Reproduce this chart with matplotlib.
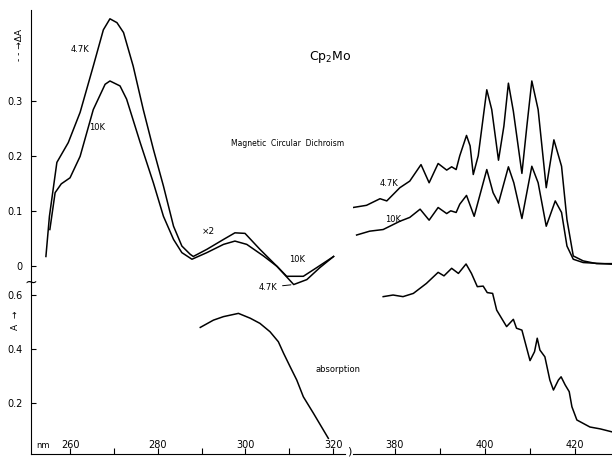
import numpy as np
import matplotlib.pyplot as plt

# MCD, 250-320 nm region (delta A)
mcd_l_nm_47 = [254.5, 255.3, 257.0, 259.6, 262.3, 265.3, 267.6, 269.1, 270.7, 272.2, 274.4,
               276.7, 279.0, 281.3, 283.6, 285.5, 287.4, 288.1, 291.2, 295.0, 297.6, 299.9,
               303.3, 307.2, 311.0, 314.0, 317.0, 320.1]
mcd_l_47 = [0.018, 0.091, 0.189, 0.225, 0.280, 0.364, 0.430, 0.450, 0.443, 0.425, 0.364,
            0.285, 0.213, 0.146, 0.073, 0.037, 0.022, 0.018, 0.031, 0.049, 0.061, 0.060,
            0.031, 0.000, -0.033, -0.024, -0.002, 0.018]
mcd_l_nm_10 = [255.4, 256.6, 258.0, 260.0, 262.3, 265.3, 268.0, 269.1, 271.4, 272.9, 276.0,
               279.0, 281.3, 283.6, 285.5, 287.8, 291.2, 295.0, 297.6, 300.3, 304.1, 307.2,
               309.4, 313.2, 316.3, 320.1]
mcd_l_10 = [0.067, 0.134, 0.150, 0.161, 0.200, 0.285, 0.331, 0.337, 0.328, 0.304, 0.225,
            0.152, 0.091, 0.049, 0.025, 0.013, 0.025, 0.040, 0.046, 0.040, 0.019, 0.000,
            -0.018, -0.018, -0.002, 0.018]

# MCD, 370-430 nm region
mcd_r_nm_47 = [370.7, 373.7, 376.7, 378.2, 381.1, 383.3, 385.8, 387.6, 389.6, 391.5, 392.6,
               393.6, 394.4, 395.9, 396.7, 397.4, 398.5, 400.4, 401.5, 403.0, 404.2, 405.2,
               406.3, 408.2, 409.3, 410.4, 411.8, 413.6, 415.3, 417.0, 418.2, 419.6, 421.8,
               424.8, 428.2]
mcd_r_47 = [0.107, 0.111, 0.123, 0.119, 0.143, 0.155, 0.185, 0.152, 0.187, 0.175, 0.181,
            0.176, 0.201, 0.238, 0.219, 0.167, 0.201, 0.321, 0.285, 0.193, 0.255, 0.333,
            0.282, 0.169, 0.255, 0.337, 0.285, 0.143, 0.230, 0.182, 0.085, 0.019, 0.010,
            0.005, 0.005]
mcd_r_nm_10 = [371.5, 374.4, 377.4, 381.1, 383.3, 385.6, 387.6, 389.6, 391.5, 392.4, 393.6,
               394.4, 395.9, 397.6, 400.4, 401.8, 403.0, 405.2, 406.4, 408.2, 410.4, 411.8,
               413.6, 415.6, 417.0, 418.2, 419.6, 421.8, 428.2]
mcd_r_10 = [0.057, 0.064, 0.067, 0.082, 0.089, 0.104, 0.084, 0.107, 0.096, 0.101, 0.098,
            0.113, 0.129, 0.091, 0.176, 0.134, 0.115, 0.181, 0.152, 0.087, 0.182, 0.152,
            0.073, 0.119, 0.098, 0.037, 0.013, 0.007, 0.004]

# absorption (A)
abs_l_nm = [289.7, 292.7, 295.0, 298.4, 301.1, 303.3, 305.6, 307.5, 308.7, 310.2, 311.7,
            313.2, 315.5, 318.9]
abs_l = [0.480, 0.507, 0.520, 0.532, 0.514, 0.495, 0.464, 0.427, 0.384, 0.334, 0.285,
         0.223, 0.162, 0.069]
abs_r_nm = [377.4, 379.6, 381.8, 384.1, 387.0, 389.6, 390.9, 392.6, 394.1, 395.8, 397.0,
            398.3, 399.6, 400.5, 401.7, 402.6, 404.8, 406.3, 407.0, 408.2, 410.0, 411.0,
            411.6, 412.2, 413.3, 414.4, 415.2, 416.3, 416.9, 417.8, 418.7, 419.3, 420.4,
            423.3, 425.6, 428.2]
abs_r = [0.594, 0.600, 0.594, 0.606, 0.643, 0.684, 0.671, 0.699, 0.680, 0.715, 0.680,
         0.631, 0.633, 0.609, 0.606, 0.544, 0.483, 0.510, 0.477, 0.470, 0.357, 0.390,
         0.440, 0.396, 0.371, 0.285, 0.248, 0.285, 0.297, 0.267, 0.242, 0.186, 0.137,
         0.111, 0.104, 0.093]

W, H = 612, 457
fig = plt.figure(figsize=(6.12, 4.57), dpi=100)


def fx(px):
    return px / W


def fy(py):
    return 1 - py / H


ax_l = fig.add_axes([fx(31), fy(454), fx(345) - fx(31), fy(10) - fy(454)])
ax_r = fig.add_axes([fx(353), fy(454), fx(612) - fx(353), fy(10) - fy(454)])

mcd_lim = (-0.341, 0.466)
abs_lim = (0.011, 1.656)
lw = 1.1

ax_l.plot(mcd_l_nm_47, mcd_l_47, color='black', lw=lw)
ax_l.plot(mcd_l_nm_10, mcd_l_10, color='black', lw=lw)
ax_l.set_xlim(251.1, 322.7)
ax_l.set_ylim(*mcd_lim)
ax_la = ax_l.twinx()
ax_la.plot(abs_l_nm, abs_l, color='black', lw=lw)
ax_la.set_ylim(*abs_lim)

ax_r.plot(mcd_r_nm_47, mcd_r_47, color='black', lw=lw)
ax_r.plot(mcd_r_nm_10, mcd_r_10, color='black', lw=lw)
ax_r.set_xlim(370.7, 428.2)
ax_r.set_ylim(*mcd_lim)
ax_ra = ax_r.twinx()
ax_ra.plot(abs_r_nm, abs_r, color='black', lw=lw)
ax_ra.set_ylim(*abs_lim)

for a in (ax_l, ax_r, ax_la, ax_ra):
    for s in ('top', 'right'):
        a.spines[s].set_visible(False)
for a in (ax_la, ax_ra):
    a.spines['left'].set_visible(False)
    a.spines['bottom'].set_visible(False)
ax_r.spines['left'].set_visible(False)

# y ticks on the left spine
ax_l.set_yticks([0, 0.1, 0.2, 0.3])
ax_l.set_yticklabels(['0', '0.1', '0.2', '0.3'])
ax_la.yaxis.tick_left()
ax_la.set_yticks([0.2, 0.4, 0.6])
ax_la.set_yticklabels(['0.2', '0.4', '0.6'])
for a in (ax_l, ax_la):
    a.tick_params(axis='y', direction='in', length=3.5, width=0.8, labelsize=7, pad=6)
ax_r.tick_params(axis='y', left=False, labelleft=False)
ax_ra.tick_params(axis='y', left=False, right=False, labelleft=False, labelright=False)

# x ticks, labels sit inside the frame
ax_l.set_xticks([260, 280, 300, 320])
ax_l.set_xticks([270, 290, 310], minor=True)
ax_r.set_xticks([380, 400, 420])
ax_r.set_xticks([390, 410], minor=True)
for a in (ax_l, ax_r):
    a.tick_params(axis='x', which='both', direction='in', length=4, width=0.8,
                  labelsize=7, pad=-10)

# annotations
txt = dict(color='black', ha='center', va='center')
fig.text(fx(80), fy(50), '4.7K', fontsize=6, **txt)
fig.text(fx(97), fy(127), '10K', fontsize=6, **txt)
fig.text(fx(208), fy(232), '×2', fontsize=6.5, **txt)
fig.text(fx(297), fy(260), '10K', fontsize=6, **txt)
i_min = int(np.argmin(mcd_l_47))
ax_l.annotate('4.7K', xy=(mcd_l_nm_47[i_min], mcd_l_47[i_min]),
              xytext=(-12, -2), textcoords='offset points', fontsize=6,
              ha='right', va='center', arrowprops=dict(arrowstyle='-', lw=0.7))
fig.text(fx(330), fy(57), 'Cp$_2$Mo', fontsize=9, **txt)
fig.text(fx(288), fy(143), 'Magnetic  Circular  Dichroism', fontsize=5.5, **txt)
fig.text(fx(338), fy(370), 'absorption', fontsize=6, **txt)
fig.text(fx(389), fy(183), '4.7K', fontsize=6, **txt)
fig.text(fx(393), fy(219), '10K', fontsize=6, **txt)

fig.text(fx(19), fy(45), '- - →ΔA', fontsize=6.5, rotation=90, **txt)
fig.text(fx(16), fy(320), 'A  →', fontsize=6.5, rotation=90, **txt)
fig.text(fx(43), fy(446), 'nm', fontsize=6, **txt)
fig.text(fx(31), fy(282), '~', fontsize=11, **txt)
fig.text(fx(349), fy(451), ')', fontsize=8, **txt)

fig.savefig('out.png', dpi=100)
